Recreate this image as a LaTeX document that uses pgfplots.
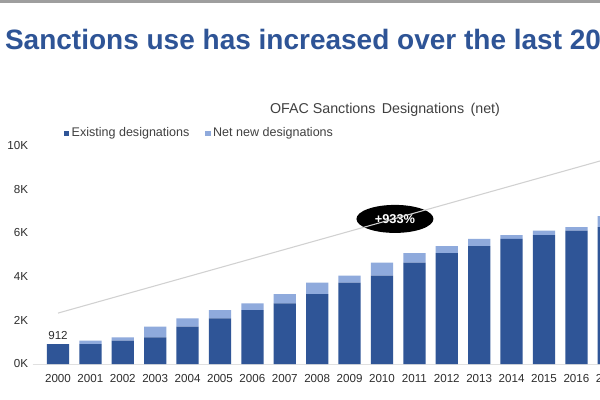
\documentclass[border=0pt]{standalone}
\usepackage{fontspec}
\setmainfont{Liberation Sans}
\usepackage{pgfplots}
\pgfplotsset{compat=1.18}
\usetikzlibrary{shapes.geometric}
\definecolor{titleblue}{RGB}{46,84,150}
\definecolor{darkbar}{RGB}{47,85,151}
\definecolor{lightbar}{RGB}{143,170,220}
\definecolor{txtgray}{RGB}{64,64,64}
\definecolor{tickgray}{RGB}{45,45,45}
\begin{document}
\begin{tikzpicture}
\path[use as bounding box, clip] (0,0) rectangle (450pt,300pt);
\fill[white] (0,0) rectangle (450pt,300pt);
\fill[black!38] (0,297.6pt) rectangle (450pt,300pt);
\node[anchor=base west, inner sep=0pt, text=titleblue, font=\fontsize{21}{24}\selectfont\bfseries] at (3.6pt,263pt) {Sanctions use has increased over the last 20};
\node[anchor=center, inner sep=0pt, text=txtgray, font=\fontsize{10.7}{12}\selectfont] at (288.75pt,218pt) {OFAC Sanctions\, Designations\, (net)};
\begin{axis}[
  anchor=origin, at={(43.5pt,27pt)},
  x=24.3pt, y=16.3875pt,
  xmin=-0.78, xmax=17.6, ymin=0, ymax=10,
  ybar stacked, bar width=16.7pt,
  separate axis lines,
  axis x line*=bottom, axis y line*=left,
  x axis line style={draw=black!12},
  y axis line style={draw=none},
  major tick length=0pt,
  xtick={0,...,17},
  xticklabels={2000,2001,2002,2003,2004,2005,2006,2007,2008,2009,2010,2011,2012,2013,2014,2015,2016,2017},
  ytick={0,2,4,6,8,10},
  yticklabels={0K,2K,4K,6K,8K,10K},
  ticklabel style={font=\fontsize{8.7}{10}\selectfont, text=tickgray},
  xticklabel style={yshift=-4.5pt},
  /pgf/number format/assume math mode=true,
  legend columns=2,
  legend style={draw=none, fill=none, at={(0.052,1.057)}, anchor=west, inner sep=0pt,
    font=\fontsize{9.4}{11}\selectfont, text=txtgray,
    /tikz/every even column/.append style={column sep=10pt}},
  legend image code/.code={\fill[#1] (0pt,-1.9pt) rectangle (3.8pt,1.9pt);},
]
\addplot[fill=darkbar, draw=none] coordinates {
(0,0.912) (1,0.912) (2,1.07) (3,1.22) (4,1.71) (5,2.09) (6,2.47) (7,2.78) (8,3.20)
(9,3.72) (10,4.04) (11,4.64) (12,5.07) (13,5.40) (14,5.73) (15,5.90) (16,6.10) (17,6.26)};
\addlegendentry{Existing designations}
\addplot[fill=lightbar, draw=none] coordinates {
(0,0) (1,0.158) (2,0.15) (3,0.49) (4,0.38) (5,0.38) (6,0.31) (7,0.42) (8,0.52)
(9,0.32) (10,0.60) (11,0.43) (12,0.33) (13,0.33) (14,0.17) (15,0.20) (16,0.16) (17,0.51)};
\addlegendentry{Net new designations}
\addplot[ybar=0pt, sharp plot, draw=black!18, line width=0.8pt, forget plot, stack plots=false] coordinates {(0,2.33) (18,9.82)};
\node[anchor=south, text=tickgray, font=\fontsize{8.7}{10}\selectfont] at (axis cs:0,0.912) {912};
\node[ellipse, fill=black, minimum width=57.75pt, minimum height=21pt, inner sep=0pt, text=white, font=\fontsize{9.6}{11}\selectfont\bfseries] at (axis cs:10.4,6.64) {+933\%};
\end{axis}
\end{tikzpicture}
\end{document}
